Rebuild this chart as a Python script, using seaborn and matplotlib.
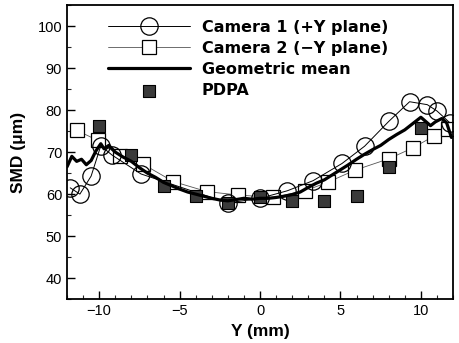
import matplotlib
matplotlib.use("Agg")
import matplotlib.pyplot as plt
from matplotlib.ticker import MultipleLocator
import seaborn as sns

# Camera 1 (+Y plane) SMD profile
cam1_y = [-11.8, -11.2, -10.5, -9.9, -9.2, -7.4, -2.0, 0.0, 1.7, 3.3, 5.1, 6.5, 8.0, 9.3, 10.4, 11.0, 11.8]
cam1_smd = [61.5, 60.0, 64.3, 71.5, 69.3, 64.8, 57.9, 59.0, 60.8, 63.2, 67.3, 71.4, 77.3, 82.0, 81.3, 79.8, 77.0]

# Camera 2 (-Y plane) SMD profile
cam2_y = [-11.4, -10.1, -8.7, -7.3, -5.4, -3.3, -1.4, 0.8, 2.8, 4.2, 5.9, 8.0, 9.5, 10.8, 11.7]
cam2_smd = [75.2, 72.8, 69.0, 67.2, 63.0, 60.6, 59.8, 59.2, 60.8, 62.8, 65.7, 68.4, 71.0, 73.8, 75.6]

# Geometric mean of the two camera profiles
gm_y = [-12.0, -11.7, -11.4, -11.1, -10.8, -10.5, -10.2, -9.9, -9.7, -9.4, -9.0, -8.5, -8.0,
        -7.5, -7.0, -6.5, -6.0, -5.5, -5.0, -4.5, -4.0, -3.5, -3.0, -2.5, -2.0, -1.5, -1.0,
        -0.5, 0.0, 0.5, 1.0, 1.5, 2.0, 2.5, 3.0, 3.5, 4.0, 4.5, 5.0, 5.5, 6.0, 6.5, 7.0, 7.5,
        8.0, 8.5, 9.0, 9.5, 10.0, 10.3, 10.6, 10.9, 11.3, 11.6, 11.9]
gm_smd = [66.5, 69.0, 67.8, 68.3, 67.0, 68.0, 70.3, 72.0, 70.8, 71.6, 70.0, 68.8, 67.8,
          66.3, 65.0, 64.0, 62.8, 62.0, 61.2, 60.5, 60.0, 59.5, 59.0, 58.6, 58.4, 58.7, 59.0,
          58.8, 59.0, 59.0, 59.2, 59.5, 59.9, 60.5, 61.6, 62.6, 63.4, 64.6, 65.8, 67.0, 68.3,
          69.5, 70.6, 71.6, 73.0, 74.2, 75.3, 76.8, 78.3, 77.3, 76.3, 77.2, 78.0, 77.0, 73.5]

# PDPA point measurements
pdpa_y = [-10, -8, -6, -4, -2, 0, 2, 4, 6, 8, 10]
pdpa_smd = [76.2, 69.2, 62.0, 59.5, 57.8, 59.2, 58.3, 58.3, 59.6, 66.5, 75.8]

sns.set_style("ticks")
plt.rcParams["font.family"] = ["Liberation Sans", "DejaVu Sans"]
plt.rcParams["text.color"] = "black"
plt.rcParams["axes.labelcolor"] = "black"
plt.rcParams["mathtext.default"] = "regular"

fig = plt.figure(figsize=(4.59, 3.43), dpi=100)
ax = fig.add_axes([0.146, 0.128, 0.841, 0.857])

sns.lineplot(x=cam2_y, y=cam2_smd, ax=ax, color="#555555", lw=0.6, marker="s",
             markersize=10, markerfacecolor="white", markeredgecolor="black",
             markeredgewidth=0.9, label="Camera 2 (\u2212Y plane)", zorder=2)
sns.lineplot(x=cam1_y, y=cam1_smd, ax=ax, color="black", lw=0.7, marker="o",
             markersize=12.5, markerfacecolor="none", markeredgecolor="black",
             markeredgewidth=0.9, label="Camera 1 (+Y plane)", zorder=3)
sns.scatterplot(x=pdpa_y, y=pdpa_smd, ax=ax, marker="s", s=70, color="#3a3a3a",
                edgecolor="black", linewidth=0.8, label="PDPA", zorder=4)
sns.lineplot(x=gm_y, y=gm_smd, ax=ax, color="black", lw=2.3,
             label="Geometric mean", zorder=5)

ax.set_xlim(-12, 12)
ax.set_ylim(35, 105)
ax.xaxis.set_major_locator(MultipleLocator(5))
ax.xaxis.set_minor_locator(MultipleLocator(1))
ax.yaxis.set_major_locator(MultipleLocator(10))
ax.yaxis.set_minor_locator(MultipleLocator(5))
ax.set_yticks([40, 50, 60, 70, 80, 90, 100])
ax.tick_params(which="major", direction="in", length=6, width=1, labelsize=10.5, colors="black")
ax.tick_params(which="minor", direction="in", length=3, width=0.8)
for s in ax.spines.values():
    s.set_linewidth(1.3)
    s.set_color("black")

ax.set_xlabel("Y (mm)", fontsize=12.5, fontweight="bold", labelpad=4)
ax.set_ylabel("SMD (\u03bcm)", fontsize=12.5, fontweight="bold", labelpad=8)

handles, labels = ax.get_legend_handles_labels()
order = [labels.index(l) for l in ["Camera 1 (+Y plane)", "Camera 2 (\u2212Y plane)",
                                    "Geometric mean", "PDPA"]]
leg = ax.legend([handles[i] for i in order], [labels[i] for i in order],
                loc="upper left", bbox_to_anchor=(0.07, 1.0), frameon=False,
                handlelength=5.1, handletextpad=0.75, labelspacing=0.38,
                prop={"family": ["DejaVu Sans"], "weight": "bold", "size": 11.5})
for t in leg.get_texts():
    t.set_color("black")

fig.savefig("out.png", dpi=100)
